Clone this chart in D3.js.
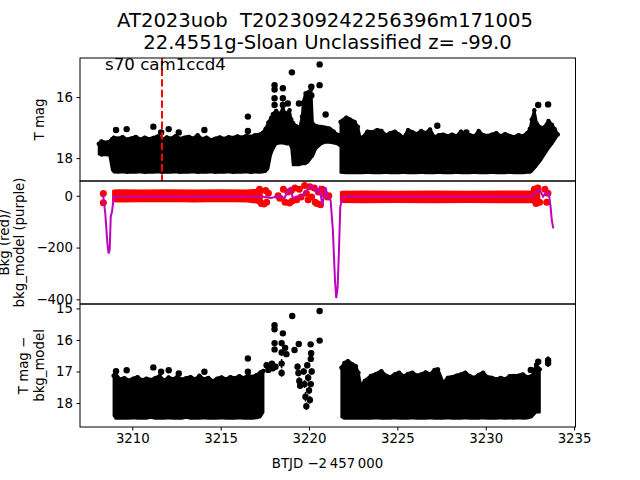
<!DOCTYPE html>
<html><head><meta charset="utf-8">
<script src="https://cdn.jsdelivr.net/npm/d3@7/dist/d3.min.js"></script>
<style>body{margin:0;background:#fff}svg{display:block}text{font-family:"DejaVu Sans",sans-serif;fill:#000}.pre{white-space:pre}</style>
</head><body><svg id="c" width="640" height="480"></svg>
<script>
// ---------- DATA ----------
const titleLines = ["AT2023uob  T202309242256396m171005", "22.4551g-Sloan Unclassified z= -99.0"];
const annotation = "s70 cam1ccd4";
const markerTime = 3211.68;
const xTicks = [3210, 3215, 3220, 3225, 3230, 3235];
const y1Ticks = [16, 18];
const y2Ticks = [0, -200, -400];
const y3Ticks = [15, 16, 17, 18];
const xLabel = "BTJD \u22122\u2009457\u2009000";

// Panel 1: T mag envelope [time, brightest(top), faintest(bottom)]
const magBand1a = [
 [3208.10,17.50,17.88],[3208.25,17.42,17.92],[3208.45,17.46,17.90],[3208.70,17.44,17.92],
 [3208.85,17.35,18.40],[3208.95,17.30,18.47],[3209.20,17.33,18.48],[3209.45,17.28,18.46],
 [3209.70,17.36,18.49],[3209.95,17.32,18.47],[3210.20,17.27,18.48],[3210.45,17.36,18.46],
 [3210.70,17.30,18.49],[3210.95,17.35,18.47],[3211.20,17.31,18.48],[3211.45,17.26,18.46],
 [3211.70,17.37,18.49],[3211.95,17.29,18.47],[3212.20,17.33,18.48],[3212.45,17.25,18.46],
 [3212.70,17.34,18.49],[3212.95,17.30,18.47],[3213.20,17.27,18.48],[3213.45,17.33,18.46],
 [3213.70,17.22,18.49],[3213.95,17.35,18.47],[3214.20,17.30,18.48],[3214.45,17.38,18.46],
 [3214.70,17.33,18.49],[3214.95,17.29,18.47],[3215.20,17.34,18.48],[3215.45,17.28,18.46],
 [3215.70,17.31,18.49],[3215.95,17.26,18.47],[3216.20,17.30,18.48],[3216.45,17.24,18.46],
 [3216.70,17.27,18.49],[3216.95,17.22,18.47],[3217.20,17.20,18.48],[3217.38,17.14,18.47],
 [3217.55,17.00,18.45],[3217.70,16.80,18.35],[3217.85,16.65,17.90],[3217.95,16.53,17.75],
 [3218.14,16.42,17.55],[3218.33,16.53,17.52],[3218.52,16.37,17.52],[3218.71,16.53,17.55],
 [3218.90,16.40,17.55],[3219.00,16.70,17.70],[3219.08,16.81,18.23],[3219.27,16.92,18.23],
 [3219.46,16.97,18.23],[3219.60,16.60,18.20],[3219.65,16.15,18.20],[3219.80,15.85,18.20],
 [3219.94,15.82,18.15],[3220.13,15.70,18.00],[3220.22,16.85,17.95],[3220.40,16.92,17.70],
 [3220.69,16.95,17.55],[3220.90,16.97,17.50],[3221.16,17.00,17.50],[3221.40,17.10,17.52],
 [3221.60,17.20,17.55],[3221.72,17.22,17.60]
];
const magBand1b = [
 [3221.78,16.78,18.48],[3222.11,16.64,18.50],[3222.30,16.70,18.50],[3222.58,16.78,18.50],
 [3222.77,16.95,18.50],[3222.96,17.45,18.50],[3223.05,17.28,18.50],[3223.30,17.10,18.48],
 [3223.60,17.12,18.50],[3223.85,17.05,18.49],[3224.10,17.08,18.50],[3224.35,17.22,18.48],
 [3224.60,17.15,18.50],[3224.85,17.10,18.49],[3225.10,17.20,18.50],[3225.35,17.30,18.48],
 [3225.60,17.05,18.50],[3225.85,17.12,18.49],[3226.10,17.18,18.50],[3226.35,17.08,18.48],
 [3226.60,17.15,18.50],[3226.85,17.03,18.49],[3227.10,17.28,18.50],[3227.35,17.22,18.48],
 [3227.60,17.20,18.50],[3227.85,17.25,18.49],[3228.10,17.20,18.50],[3228.35,17.25,18.48],
 [3228.60,17.10,18.50],[3228.85,17.24,18.49],[3229.10,17.22,18.50],[3229.35,17.26,18.48],
 [3229.60,17.08,18.50],[3229.85,17.22,18.49],[3230.10,17.24,18.50],[3230.35,17.20,18.48],
 [3230.60,17.15,18.50],[3230.85,17.25,18.49],[3231.10,17.18,18.50],[3231.35,17.24,18.48],
 [3231.60,17.28,18.50],[3231.85,17.22,18.49],[3232.10,17.25,18.50],[3232.35,17.15,18.48],
 [3232.50,17.00,18.48],[3232.60,16.70,18.45],[3232.75,16.40,18.35],[3232.90,16.85,18.25],
 [3233.10,16.97,18.10],[3233.30,16.97,17.92],[3233.55,16.75,17.70],[3233.75,16.88,17.55],
 [3233.91,17.02,17.41],[3234.08,17.19,17.26]
];
// Panel 1 individual points [time, mag, err]
const magPts1 = [
 [3209.08,17.08,0.05],[3209.68,17.05,0.05],[3211.19,16.97,0.05],[3211.63,17.16,0.05],
 [3212.06,17.05,0.05],[3212.63,17.16,0.05],[3214.08,17.08,0.05],[3216.54,16.64,0.06],
 [3216.54,17.11,0.06],[3218.05,15.61,0.06],[3218.05,15.75,0.06],[3218.05,16.04,0.10],
 [3218.05,16.26,0.10],[3218.52,15.71,0.06],[3218.52,16.04,0.10],[3218.52,16.26,0.10],
 [3218.80,16.21,0.08],[3219.03,15.19,0.05],[3219.43,16.21,0.06],[3220.13,15.66,0.06],
 [3220.13,15.95,0.10],[3220.60,14.93,0.05],[3220.60,15.61,0.05],[3220.94,16.57,0.08],
 [3227.26,16.94,0.05],[3228.90,17.16,0.05],[3232.97,16.26,0.06],[3233.53,16.24,0.06]
];

// Panel 2: background flux envelope [time, high, low], scattered points [time, value], model [time, value]
const bkgBand1 = [
 [3208.94,18,-19],[3209.30,19,-20],[3210.50,18,-19],[3212.00,19,-18],[3213.50,18,-20],
 [3215.00,19,-18],[3216.50,18,-20],[3217.00,21,-24],[3217.30,25,-30]
];
const bkgBand2 = [
 [3221.83,14,-22],[3223.00,15,-23],[3225.00,14,-22],[3227.00,15,-23],[3229.00,14,-22],
 [3231.00,15,-23],[3232.60,15,-23],[3232.75,20,-28],[3233.00,20,-28]
];
const bkgPts = [
 [3208.36,9],[3208.36,-27],[3217.20,25],[3217.30,-30],[3217.45,-32],[3217.55,20],[3217.60,-25],
 [3217.70,10],[3218.25,0],[3218.35,-10],[3218.55,25],[3218.65,-25],[3218.80,15],[3218.90,-28],
 [3219.00,20],[3219.05,-20],[3219.20,30],[3219.30,-15],[3219.45,25],[3219.55,-5],[3219.75,40],
 [3219.85,10],[3219.95,-15],[3220.05,35],[3220.15,-5],[3220.30,30],[3220.35,-25],[3220.45,-30],
 [3220.55,15],[3220.65,-35],[3220.75,25],[3220.90,5],[3221.05,-5],[3221.12,0],
 [3232.75,25],[3232.85,-30],[3232.95,30],[3233.05,-25],[3233.35,25],[3233.45,-25],[3233.52,10]
];
const bkgModel = [
 [3208.23,3],[3208.36,-4],[3208.47,-68],[3208.59,-184],[3208.66,-223],[3208.72,-210],
 [3208.78,-81],[3208.85,-62],[3208.95,-4],[3209.08,-3],[3213.00,-3],[3217.29,-3],
 [3217.58,-6],[3217.86,-9],[3218.14,-3],[3218.43,-1],[3218.61,-10],[3218.80,22],[3218.94,29],
 [3219.09,-9],[3219.28,-3],[3219.56,-3],[3219.80,15],[3220.03,35],[3220.22,37],[3220.41,9],
 [3220.60,32],[3220.75,-36],[3220.94,32],[3221.07,-9],[3221.22,-17],[3221.35,-133],
 [3221.47,-327],[3221.54,-395],[3221.62,-353],[3221.69,-220],[3221.77,-43],[3221.90,-4],
 [3222.30,-3],[3227.00,-3],[3232.68,-3],[3232.87,15],[3233.06,22],[3233.25,-3],[3233.44,15],
 [3233.57,9],[3233.67,-43],[3233.74,-94],[3233.82,-126]
];

// Panel 3: T mag - bkg_model envelope and points
const diffBand1 = [
 [3208.94,17.10,18.40],[3209.05,17.05,18.50],[3209.30,17.22,18.50],[3209.55,17.18,18.49],
 [3209.80,17.26,18.50],[3210.05,17.20,18.48],[3210.30,17.15,18.50],[3210.55,17.25,18.49],
 [3210.80,17.20,18.50],[3211.05,17.24,18.47],[3211.30,17.18,18.50],[3211.55,17.12,18.49],
 [3211.80,17.26,18.50],[3212.05,17.16,18.48],[3212.30,17.22,18.50],[3212.55,17.14,18.49],
 [3212.80,17.23,18.50],[3213.05,17.18,18.47],[3213.30,17.15,18.50],[3213.55,17.22,18.49],
 [3213.80,17.10,18.50],[3214.05,17.22,18.48],[3214.30,17.17,18.50],[3214.55,17.28,18.49],
 [3214.80,17.20,18.50],[3215.05,17.16,18.48],[3215.30,17.22,18.50],[3215.55,17.15,18.49],
 [3215.80,17.19,18.50],[3216.05,17.12,18.48],[3216.30,17.18,18.50],[3216.55,17.10,18.49],
 [3216.80,17.14,18.50],[3217.05,17.08,18.48],[3217.25,17.00,18.45],[3217.42,16.95,18.30]
];
const diffBand2 = [
 [3221.83,16.85,18.45],[3222.00,16.70,18.50],[3222.20,16.64,18.50],[3222.45,16.74,18.50],
 [3222.65,16.80,18.50],[3222.80,17.01,18.50],[3222.95,17.43,18.50],[3223.15,17.27,18.49],
 [3223.50,17.11,18.50],[3223.80,17.05,18.48],[3224.10,16.96,18.50],[3224.35,17.10,18.49],
 [3224.60,17.15,18.50],[3224.85,17.06,18.48],[3225.10,17.01,18.50],[3225.35,17.12,18.49],
 [3225.60,17.05,18.50],[3225.85,17.01,18.48],[3226.10,17.10,18.50],[3226.35,17.06,18.49],
 [3226.60,17.00,18.50],[3226.85,17.06,18.48],[3227.10,16.92,18.50],[3227.30,16.90,18.49],
 [3227.60,17.33,18.50],[3227.85,17.17,18.48],[3228.10,17.15,18.50],[3228.35,17.10,18.49],
 [3228.60,17.06,18.50],[3228.85,17.01,18.48],[3229.10,17.12,18.50],[3229.35,17.17,18.49],
 [3229.60,17.08,18.50],[3229.85,17.01,18.48],[3230.10,17.15,18.50],[3230.35,17.17,18.49],
 [3230.60,17.22,18.50],[3230.85,17.17,18.48],[3231.10,17.22,18.50],[3231.35,17.12,18.49],
 [3231.60,17.11,18.50],[3231.85,17.10,18.48],[3232.10,17.06,18.50],[3232.35,17.15,18.49],
 [3232.60,17.12,18.45],[3232.85,16.75,18.30],[3233.06,16.90,18.30]
];
const diffPts = [
 [3209.08,16.99,0.05],[3209.68,16.96,0.05],[3211.19,16.87,0.05],[3211.63,17.01,0.05],
 [3212.06,16.96,0.05],[3212.63,17.06,0.05],[3214.08,17.01,0.05],[3216.54,16.59,0.06],
 [3216.54,17.01,0.06],
 [3217.60,16.80,0.08],[3217.70,16.95,0.08],[3217.78,16.85,0.08],[3217.90,16.75,0.08],
 [3217.95,16.90,0.08],[3218.05,15.53,0.05],[3218.05,15.66,0.05],[3218.05,16.10,0.08],
 [3218.05,16.30,0.08],[3218.10,16.85,0.10],[3218.45,16.10,0.10],[3218.45,16.40,0.10],
 [3218.45,16.75,0.15],[3218.45,17.05,0.12],[3218.52,15.79,0.05],[3218.65,16.25,0.08],
 [3218.72,16.45,0.08],[3219.05,15.24,0.05],[3219.18,16.32,0.06],[3219.42,16.13,0.06],
 [3219.35,16.85,0.10],[3219.40,17.05,0.10],[3219.45,17.30,0.12],[3219.50,17.45,0.10],
 [3219.70,17.00,0.10],[3219.75,17.40,0.12],[3219.80,17.80,0.15],[3219.85,18.10,0.12],
 [3219.90,16.80,0.10],[3219.95,17.20,0.12],[3220.00,17.60,0.12],[3220.05,17.90,0.12],
 [3220.10,16.60,0.10],[3220.15,17.00,0.10],[3220.10,17.40,0.10],[3220.09,16.14,0.06],
 [3220.12,16.42,0.06],[3220.60,15.08,0.05],[3220.60,16.02,0.05],
 [3232.55,16.95,0.05],[3232.97,16.69,0.06],[3233.53,16.64,0.12],[3233.53,16.74,0.12]
];

// ---------- DRAWING ----------
const svg = d3.select("#c");
const L = 80, R = 575.5;
const panels = [{top:58,h:123},{top:181,h:123},{top:304,h:123}];
const x = d3.scaleLinear().domain([3207.04, 3235.08]).range([L, R]);
const y1 = d3.scaleLinear().domain([14.72, 18.75]).range([58, 181]);
const y2 = d3.scaleLinear().domain([57, -418]).range([181, 304]);
const y3 = d3.scaleLinear().domain([14.86, 18.76]).range([304, 427]);

const defs = svg.append("defs");
panels.forEach((p,i)=>{
  defs.append("clipPath").attr("id","clip"+i).append("rect")
    .attr("x",L).attr("y",p.top).attr("width",R-L).attr("height",p.h);
});

function drawBand(g, data, y){
  const area = d3.area().x(d=>x(d[0])).y0(d=>y(d[2])).y1(d=>y(d[1]));
  g.append("path").datum(data).attr("d",area).attr("fill","#000")
    .attr("stroke","#000").attr("stroke-width",2).attr("stroke-linejoin","round");
  g.selectAll(null).data(data).enter().append("circle")
    .attr("cx",d=>x(d[0])).attr("cy",d=>y(d[1])+1).attr("r",2.2).attr("fill","#000");
}
function drawPts(g, data, y){
  g.selectAll(null).data(data).enter().append("line")
    .attr("x1",d=>x(d[0])).attr("x2",d=>x(d[0]))
    .attr("y1",d=>y(d[1]-d[2])).attr("y2",d=>y(d[1]+d[2]))
    .attr("stroke","#000").attr("stroke-width",1.5);
  g.selectAll(null).data(data).enter().append("circle")
    .attr("cx",d=>x(d[0])).attr("cy",d=>y(d[1])).attr("r",3.2).attr("fill","#000");
}

// Panel 1
const g1 = svg.append("g").attr("clip-path","url(#clip0)");
drawBand(g1, magBand1a, y1);
drawBand(g1, magBand1b, y1);
drawPts(g1, magPts1, y1);
g1.append("line").attr("x1",x(markerTime)).attr("x2",x(markerTime))
  .attr("y1",58).attr("y2",181).attr("stroke","#ff0000").attr("stroke-width",2)
  .attr("stroke-dasharray","7.4,3.2");

// Panel 2
const g2 = svg.append("g").attr("clip-path","url(#clip1)");
const bArea = d3.area().x(d=>x(d[0])).y0(d=>y2(d[2])).y1(d=>y2(d[1]));
[bkgBand1,bkgBand2].forEach(b=>{
  g2.append("path").datum(b).attr("d",bArea).attr("fill","#ff0000")
    .attr("stroke","#ff0000").attr("stroke-width",3).attr("stroke-linejoin","round");
});
g2.selectAll(null).data(bkgPts).enter().append("circle")
  .attr("cx",d=>x(d[0])).attr("cy",d=>y2(d[1])).attr("r",3.5).attr("fill","#ff0000");
g2.append("path").datum(bkgModel)
  .attr("d",d3.line().x(d=>x(d[0])).y(d=>y2(d[1])))
  .attr("fill","none").attr("stroke","#bf00bf").attr("stroke-width",2);

// Panel 3
const g3 = svg.append("g").attr("clip-path","url(#clip2)");
drawBand(g3, diffBand1, y3);
drawBand(g3, diffBand2, y3);
drawPts(g3, diffPts, y3);

// Frames
panels.forEach(p=>{
  svg.append("rect").attr("x",L).attr("y",p.top).attr("width",R-L).attr("height",p.h)
    .attr("fill","none").attr("stroke","#000").attr("stroke-width",1);
});

// Axes
function yAxis(scale, ticks, fmt){
  const a = svg.append("g").attr("transform",`translate(${L},0)`)
    .call(d3.axisLeft(scale).tickValues(ticks).tickSize(3.5).tickPadding(3.5).tickFormat(fmt));
  a.select(".domain").remove();
  a.selectAll("line").attr("stroke","#000").attr("stroke-width",1);
  a.selectAll("text").attr("font-size","13.3px").attr("font-family","DejaVu Sans").attr("fill","#000");
}
const minusFmt = d => (d<0 ? "\u2212"+Math.abs(d) : ""+d);
yAxis(y1, y1Ticks, minusFmt);
yAxis(y2, y2Ticks, minusFmt);
yAxis(y3, y3Ticks, minusFmt);

const xa = svg.append("g").attr("transform","translate(0,427)")
  .call(d3.axisBottom(x).tickValues(xTicks).tickSize(3.5).tickPadding(3.5).tickFormat(d3.format("d")));
xa.select(".domain").remove();
xa.selectAll("line").attr("stroke","#000").attr("stroke-width",1);
xa.selectAll("text").attr("font-size","13.3px").attr("font-family","DejaVu Sans").attr("fill","#000");

// Texts
svg.append("text").attr("class","pre").attr("x",325).attr("y",27.3).attr("text-anchor","middle")
  .attr("font-size","19.6px").text(titleLines[0]);
svg.append("text").attr("class","pre").attr("x",327.5).attr("y",49.3).attr("text-anchor","middle")
  .attr("font-size","19.6px").text(titleLines[1]);

svg.append("text").attr("x",105).attr("y",70).attr("font-size","16.67px").text(annotation);

svg.append("text").attr("x",327.5).attr("y",468).attr("text-anchor","middle")
  .attr("font-size","13.3px").text(xLabel);

function vlabel(lines, cy, baseX){
  lines.forEach((s,i)=>{
    const bx = baseX - (lines.length-1-i)*15.5;
    svg.append("text").attr("transform",`translate(${bx},${cy}) rotate(-90)`)
      .attr("text-anchor","middle").attr("font-size","13.3px").text(s);
  });
}
vlabel(["T mag"], 119.5, 44);
vlabel(["Bkg (red)/","bkg_model (purple)"], 242.5, 24);
vlabel(["T mag \u2212","bkg_model"], 365.5, 43.5);
</script></body></html>
